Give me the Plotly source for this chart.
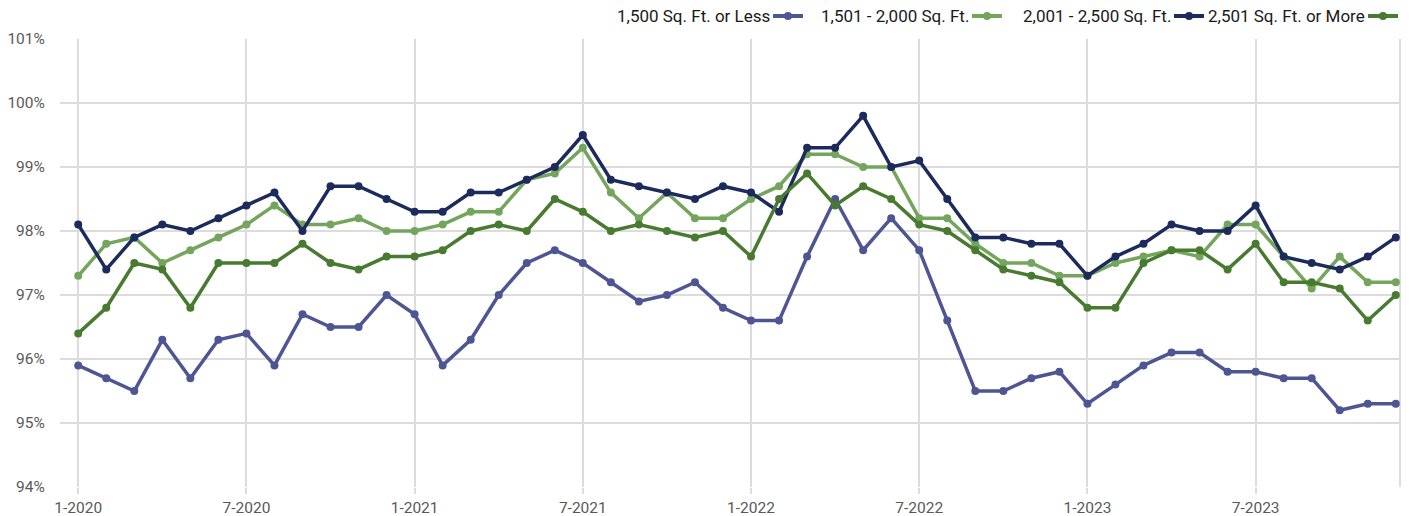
import plotly.graph_objects as go

# Monthly sale-to-list price ratio (%) by home size, Jan 2020 – Dec 2023
months = [f"{m}-{y}" for y in (2020, 2021, 2022, 2023) for m in range(1, 13)]
tick_labels = ["1-2020", "7-2020", "1-2021", "7-2021", "1-2022", "7-2022", "1-2023", "7-2023"]

sqft_1500_or_less = [
    95.9, 95.7, 95.5, 96.3, 95.7, 96.3, 96.4, 95.9, 96.7, 96.5, 96.5, 97.0,
    96.7, 95.9, 96.3, 97.0, 97.5, 97.7, 97.5, 97.2, 96.9, 97.0, 97.2, 96.8,
    96.6, 96.6, 97.6, 98.5, 97.7, 98.2, 97.7, 96.6, 95.5, 95.5, 95.7, 95.8,
    95.3, 95.6, 95.9, 96.1, 96.1, 95.8, 95.8, 95.7, 95.7, 95.2, 95.3, 95.3,
]
sqft_1501_2000 = [
    97.3, 97.8, 97.9, 97.5, 97.7, 97.9, 98.1, 98.4, 98.1, 98.1, 98.2, 98.0,
    98.0, 98.1, 98.3, 98.3, 98.8, 98.9, 99.3, 98.6, 98.2, 98.6, 98.2, 98.2,
    98.5, 98.7, 99.2, 99.2, 99.0, 99.0, 98.2, 98.2, 97.8, 97.5, 97.5, 97.3,
    97.3, 97.5, 97.6, 97.7, 97.6, 98.1, 98.1, 97.6, 97.1, 97.6, 97.2, 97.2,
]
sqft_2001_2500 = [
    98.1, 97.4, 97.9, 98.1, 98.0, 98.2, 98.4, 98.6, 98.0, 98.7, 98.7, 98.5,
    98.3, 98.3, 98.6, 98.6, 98.8, 99.0, 99.5, 98.8, 98.7, 98.6, 98.5, 98.7,
    98.6, 98.3, 99.3, 99.3, 99.8, 99.0, 99.1, 98.5, 97.9, 97.9, 97.8, 97.8,
    97.3, 97.6, 97.8, 98.1, 98.0, 98.0, 98.4, 97.6, 97.5, 97.4, 97.6, 97.9,
]
sqft_2501_or_more = [
    96.4, 96.8, 97.5, 97.4, 96.8, 97.5, 97.5, 97.5, 97.8, 97.5, 97.4, 97.6,
    97.6, 97.7, 98.0, 98.1, 98.0, 98.5, 98.3, 98.0, 98.1, 98.0, 97.9, 98.0,
    97.6, 98.5, 98.9, 98.4, 98.7, 98.5, 98.1, 98.0, 97.7, 97.4, 97.3, 97.2,
    96.8, 96.8, 97.5, 97.7, 97.7, 97.4, 97.8, 97.2, 97.2, 97.1, 96.6, 97.0,
]

series_names = ["1,500 Sq. Ft. or Less", "1,501 - 2,000 Sq. Ft.",
                "2,001 - 2,500 Sq. Ft.", "2,501 Sq. Ft. or More"]
series_values = [sqft_1500_or_less, sqft_1501_2000, sqft_2001_2500, sqft_2501_or_more]
series_colors = ["#4e5593", "#74a55c", "#1c2a5c", "#487a30"]

FONT = "Roboto, sans-serif"
GRID = "#dcdcdc"

W, H = 1411, 516
ML, MR, MT, MB = 60, 11, 39, 29
PW, PH = W - ML - MR, H - MT - MB

fig = go.Figure()
for name, vals, col in zip(series_names, series_values, series_colors):
    fig.add_trace(go.Scatter(
        x=months, y=vals, name=name, mode="lines+markers",
        line=dict(color=col, width=3.5), marker=dict(color=col, size=8),
        showlegend=False,
    ))

# legend row: label followed by its line/marker swatch
def px_x(p):
    return (p - ML) / PW

def px_y(p):
    return (H - MB - p) / PH

legend_swatch_starts = [773, 972, 1174, 1368]
SW_LEN, LEG_Y = 30, 16
shapes = []
annotations = []
for name, col, sx in zip(series_names, series_colors, legend_swatch_starts):
    annotations.append(dict(
        text=name, xref="paper", yref="paper", x=px_x(sx - 1), y=px_y(LEG_Y),
        xanchor="right", yanchor="middle", showarrow=False,
        font=dict(family=FONT, size=17, color="#1a1a1a"),
    ))
    shapes.append(dict(type="line", xref="paper", yref="paper",
                       x0=px_x(sx), x1=px_x(sx + SW_LEN), y0=px_y(LEG_Y), y1=px_y(LEG_Y),
                       line=dict(color=col, width=4)))
    cx = sx + SW_LEN / 2
    shapes.append(dict(type="circle", xref="paper", yref="paper",
                       x0=px_x(cx - 4), x1=px_x(cx + 4), y0=px_y(LEG_Y + 4), y1=px_y(LEG_Y - 4),
                       fillcolor=col, line=dict(color=col, width=0)))

# right border of the plotting area
shapes.append(dict(type="line", xref="paper", yref="paper", x0=1, x1=1, y0=0, y1=1,
                   line=dict(color=GRID, width=2), layer="below"))

fig.update_layout(
    width=W, height=H,
    margin=dict(l=ML, r=MR, t=MT, b=MB, autoexpand=False),
    paper_bgcolor="white", plot_bgcolor="white",
    font=dict(family=FONT),
    shapes=shapes, annotations=annotations,
    xaxis=dict(
        type="category", range=[-0.65, 47.15], automargin=False,
        tickvals=tick_labels, ticktext=tick_labels,
        showgrid=True, gridcolor=GRID, gridwidth=2,
        ticks="outside", ticklen=6, tickcolor=GRID, tickwidth=2,
        tickfont=dict(family=FONT, size=15.5, color="#595959"),
        zeroline=False, showline=False,
    ),
    yaxis=dict(
        range=[94, 101], dtick=1, ticksuffix="%", automargin=False,
        showgrid=True, gridcolor=GRID, gridwidth=2,
        ticks="outside", ticklen=11, tickcolor="rgba(0,0,0,0)",
        tickfont=dict(family=FONT, size=15.5, color="#595959"),
        zeroline=False, showline=False,
    ),
)

fig.write_html("out.html")
